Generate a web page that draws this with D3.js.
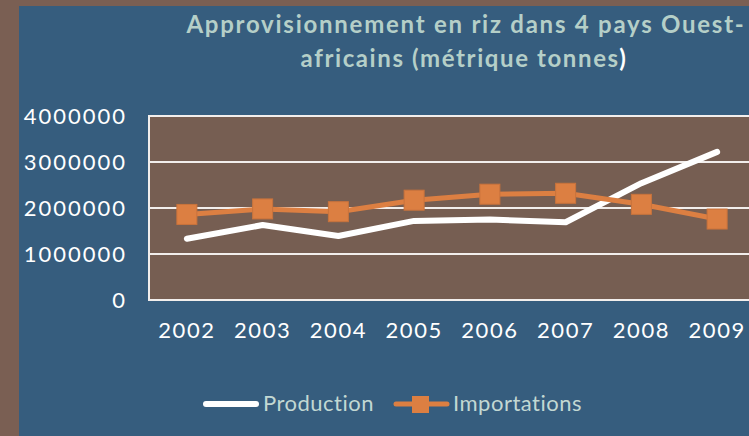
<!DOCTYPE html>
<html><head><meta charset="utf-8">
<script src="https://cdn.jsdelivr.net/npm/d3@7"></script>
<style>body{margin:0;background:#7a5f53;overflow:hidden} svg{display:block}</style>
</head><body>
<svg id="c" width="749" height="436"></svg>
<script>
const years = ["2002","2003","2004","2005","2006","2007","2008","2009"];
const production = [1330000,1630000,1390000,1720000,1750000,1690000,2540000,3220000];
const importations = [1860000,1980000,1920000,2170000,2300000,2320000,2080000,1760000];
const yTicks = [0,1000000,2000000,3000000,4000000];
const seriesNames = ["Production","Importations"];
const titleLines = ["Approvisionnement en riz dans 4 pays Ouest-","africains (métrique tonnes"];

const svg = d3.select("#c");
const font = "Lato, 'Open Sans', sans-serif";
const blue = "#365d7e", brown = "#765e52", orange = "#dc7f42", titleCol = "#b5cfc8";

svg.append("rect").attr("width",749).attr("height",436).attr("fill","#7a5f53");
svg.append("rect").attr("x",19).attr("y",6).attr("width",740).attr("height",440).attr("fill",blue);

const x = d3.scaleBand().domain(years).range([149,755]);
const y = d3.scaleLinear().domain([0,4000000]).range([300,116]);

svg.append("rect").attr("x",149).attr("y",116).attr("width",606).attr("height",184).attr("fill",brown);

// grid
svg.append("g").selectAll("line").data(yTicks).join("line")
  .attr("x1",149).attr("x2",755).attr("y1",d=>y(d)).attr("y2",d=>y(d))
  .attr("stroke","#f2eeec").attr("stroke-width",2);
svg.append("line").attr("x1",149).attr("x2",149).attr("y1",115).attr("y2",301)
  .attr("stroke","#f2eeec").attr("stroke-width",2);

// y axis labels
const yAxis = d3.axisLeft(y).tickValues(yTicks).tickFormat(d3.format("d")).tickSize(0).tickPadding(0);
const ga = svg.append("g").attr("transform","translate(127,0)").call(yAxis);
ga.select(".domain").remove();
ga.selectAll("text").attr("fill","#fff").attr("font-family",font).attr("font-size",22)
  .attr("letter-spacing","2px").attr("dy","0.36em");

// x axis labels
const xAxis = d3.axisBottom(x).tickSize(0).tickPadding(0);
const gx = svg.append("g").attr("transform","translate(0,338)").call(xAxis);
gx.select(".domain").remove();
gx.selectAll("text").attr("fill","#fff").attr("font-family",font).attr("font-size",22)
  .attr("letter-spacing","1.5px").attr("dy",0);

const cx = d => x(d) + x.bandwidth()/2;

// production line
svg.append("path").datum(production.map((v,i)=>[cx(years[i]),y(v)]))
  .attr("d",d3.line()).attr("fill","none").attr("stroke","#fff")
  .attr("stroke-width",6).attr("stroke-linecap","round").attr("stroke-linejoin","round");

// importations
svg.append("path").datum(importations.map((v,i)=>[cx(years[i]),y(v)]))
  .attr("d",d3.line()).attr("fill","none").attr("stroke",orange)
  .attr("stroke-width",5).attr("stroke-linejoin","round");
svg.append("g").selectAll("rect").data(importations).join("rect")
  .attr("x",(d,i)=>cx(years[i])-10).attr("y",d=>y(d)-10).attr("width",20).attr("height",20)
  .attr("fill",orange).attr("stroke","#c9733c").attr("stroke-width",1);

// title
const t = svg.append("text").attr("font-family",font).attr("font-weight","bold")
  .attr("font-size",24).attr("fill",titleCol).attr("text-anchor","middle");
t.append("tspan").attr("x",466).attr("y",33).attr("letter-spacing","1.75px").text(titleLines[0]);
const t2 = t.append("tspan").attr("x",464).attr("y",67).attr("letter-spacing","1.6px");
t2.append("tspan").text(titleLines[1]);
t2.append("tspan").attr("fill","#fff").text(")");

// legend
const lg = svg.append("g").attr("font-family",font).attr("font-size",22).attr("fill","#c2d8d3")
  .attr("letter-spacing","0.5px");
lg.append("line").attr("x1",206).attr("x2",256).attr("y1",404).attr("y2",404)
  .attr("stroke","#fff").attr("stroke-width",6).attr("stroke-linecap","round");
lg.append("text").attr("x",263).attr("y",411).text(seriesNames[0]);
lg.append("line").attr("x1",396).attr("x2",447).attr("y1",404).attr("y2",404)
  .attr("stroke",orange).attr("stroke-width",5).attr("stroke-linecap","round");
lg.append("rect").attr("x",412).attr("y",396).attr("width",17).attr("height",17).attr("fill",orange);
lg.append("text").attr("x",453).attr("y",411).text(seriesNames[1]);
</script>
</body></html>
